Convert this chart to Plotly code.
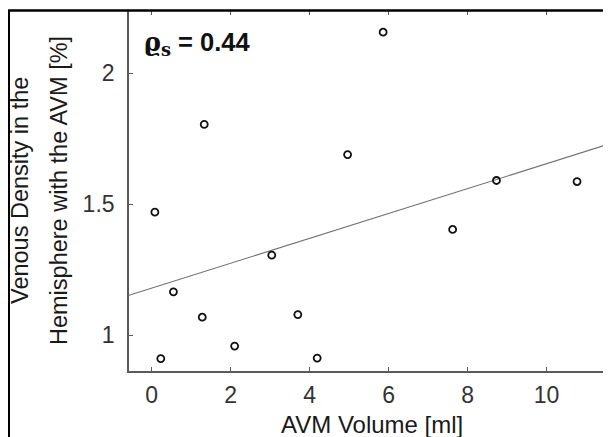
import numpy as np
import plotly.graph_objects as go

# Data
avm_volume = [0.08, 0.23, 0.55, 1.28, 1.33, 2.10, 3.04, 3.70, 4.19, 4.96, 5.86, 7.62, 8.73, 10.77]
venous_density = [1.47, 0.911, 1.166, 1.069, 1.805, 0.959, 1.306, 1.079, 0.913, 1.69, 2.157, 1.404, 1.591, 1.587]
x_ticks = [0, 2, 4, 6, 8, 10]
y_ticks = [1, 1.5, 2]
y_tick_text = ["1", "1.5", "2"]
x_range = [-0.575, 11.63]
y_range = [0.8637, 2.238]
rho_label = "0.44"

# The page body has an 8px default margin; the figure is sized to fill the rest of the window.
OFF = 8
W, H = 611 - OFF, 437 - OFF
ML, MR, MT, MB = 121, 0, 3, 66
PW = W - ML - MR
PH = H - MT - MB

def px_x(p):  # p: pixel x in window coordinates
    return (p - OFF - ML) / PW

def px_y(p):  # p: pixel y in window coordinates
    return (H - MB - (p - OFF)) / PH

slope, intercept = np.polyfit(avm_volume, venous_density, 1)
line_x = np.array(x_range)
line_y = slope * line_x + intercept

FONT = "Liberation Sans, Arial, sans-serif"
AXC = "#5a5a5a"

fig = go.Figure()
fig.add_trace(go.Scatter(x=line_x, y=line_y, mode="lines",
                         line=dict(color="#6e6e6e", width=1.1),
                         showlegend=False, hoverinfo="skip"))
fig.add_trace(go.Scatter(x=avm_volume, y=venous_density, mode="markers",
                         marker=dict(symbol="circle-open", size=7, color="#111111",
                                     line=dict(width=1.8, color="#111111")),
                         showlegend=False))

# invisible trace to activate secondary axes for mirrored ticks
fig.add_trace(go.Scatter(x=[None], y=[None], xaxis="x2", yaxis="y2", showlegend=False))

fig.update_layout(
    width=W, height=H,
    margin=dict(l=ML, r=MR, t=MT, b=MB),
    paper_bgcolor="white", plot_bgcolor="white",
    font=dict(family=FONT, color="#333333"),
    xaxis=dict(range=x_range, tickvals=x_ticks, ticks="inside", ticklen=4,
               tickcolor=AXC, tickwidth=1.3, showline=True, linecolor=AXC, linewidth=1.6,
               mirror=False, showgrid=False, zeroline=False,
               tickfont=dict(size=23, color="#333333"), ticklabelstandoff=3),
    yaxis=dict(range=y_range, tickvals=y_ticks, ticktext=y_tick_text, ticks="inside", ticklen=4,
               tickcolor=AXC, tickwidth=1.3, showline=True, linecolor=AXC, linewidth=1.6,
               mirror=False, showgrid=False, zeroline=False,
               tickfont=dict(size=23, color="#333333"), ticklabelstandoff=8),
    xaxis2=dict(range=x_range, tickvals=x_ticks, ticks="inside", ticklen=4, tickcolor=AXC,
                tickwidth=1.3, side="top", overlaying="x", showline=False,
                showticklabels=False, showgrid=False, zeroline=False),
    yaxis2=dict(range=y_range, tickvals=y_ticks, ticks="inside", ticklen=4, tickcolor=AXC,
                tickwidth=1.3, side="right", overlaying="y", showline=False,
                showticklabels=False, showgrid=False, zeroline=False),
    shapes=[
        dict(type="line", xref="paper", yref="paper", x0=px_x(9), x1=px_x(9),
             y0=px_y(10), y1=px_y(437 + 20), line=dict(color="black", width=2)),
        dict(type="line", xref="paper", yref="paper", x0=px_x(8), x1=px_x(611 + 5),
             y0=px_y(10.5), y1=px_y(10.5), line=dict(color="black", width=2.6)),
    ],
    annotations=[
        dict(text="Venous Density in the", textangle=-90, xref="paper", yref="paper",
             x=px_x(20), y=px_y(191), xanchor="center", yanchor="middle", showarrow=False,
             font=dict(size=23.5, color="#1a1a1a", family=FONT)),
        dict(text="Hemisphere with the AVM [%]", textangle=-90, xref="paper", yref="paper",
             x=px_x(59), y=px_y(191), xanchor="center", yanchor="middle", showarrow=False,
             font=dict(size=23.5, color="#1a1a1a", family=FONT)),
        dict(text="AVM Volume [ml]", xref="paper", yref="paper",
             x=px_x(372), y=px_y(424), xanchor="center", yanchor="middle", showarrow=False,
             font=dict(size=24, color="#1a1a1a", family=FONT)),
        dict(text='<span style="font-family:DejaVu Serif;font-weight:bold">\u03f1<sub>s</sub></span>'
                  '<span style="font-family:Liberation Sans;font-weight:bold"> = ' + rho_label + '</span>',
             xref="paper", yref="paper", x=px_x(142), y=px_y(25),
             xanchor="left", yanchor="top", showarrow=False,
             font=dict(size=25.5, color="#111111", family=FONT)),
    ],
)

fig.write_html("out.html")
